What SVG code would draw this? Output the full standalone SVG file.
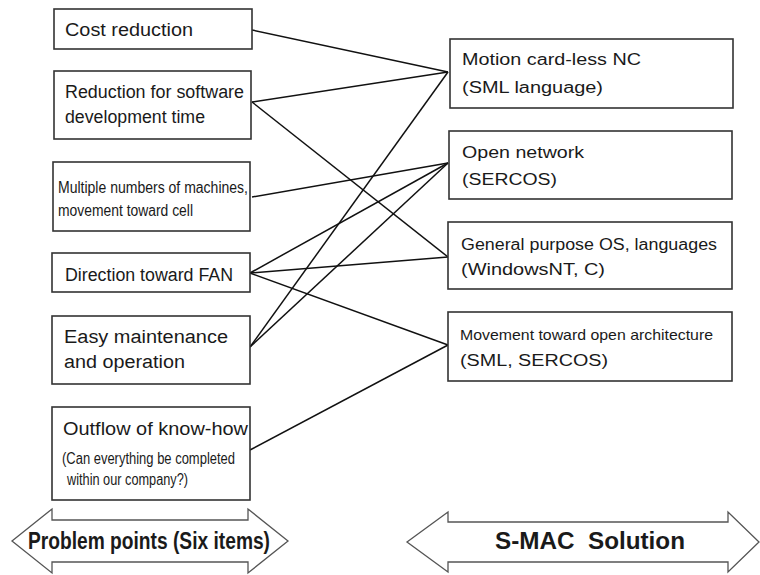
<svg xmlns="http://www.w3.org/2000/svg" width="760" height="575" viewBox="0 0 760 575">
  <style>
    .box { fill: #fff; stroke: #333; stroke-width: 1.6; }
    .t { font-family: "Liberation Sans", Arial, sans-serif; fill: #1a1a1a; }
    .l18 { font-size: 18px; }
    .l16 { font-size: 16px; }
    .l15 { font-size: 15px; }
    .b { font-weight: bold; font-size: 23px; }
    .link { stroke: #111; stroke-width: 1.5; fill: none; }
    .arrow { fill: #fff; stroke: #555; stroke-width: 1.3; }
  </style>

  <!-- connectors between problem points and solutions -->
  <g id="connectors">
    <line class="link" x1="252" y1="30" x2="448" y2="72"/>
    <line class="link" x1="252" y1="102" x2="448" y2="72"/>
    <line class="link" x1="252" y1="102" x2="448" y2="257"/>
    <line class="link" x1="252" y1="197" x2="448" y2="163"/>
    <line class="link" x1="250" y1="273" x2="448" y2="163"/>
    <line class="link" x1="250" y1="273" x2="448" y2="257"/>
    <line class="link" x1="250" y1="273" x2="448" y2="345"/>
    <line class="link" x1="250" y1="347" x2="448" y2="72"/>
    <line class="link" x1="250" y1="347" x2="448" y2="163"/>
    <line class="link" x1="250" y1="450" x2="448" y2="345"/>
  </g>

  <!-- problem points -->
  <g id="p-cost">
    <rect class="box" x="54" y="9" width="198" height="40"/>
    <text class="t l18" x="65" y="36" textLength="128" lengthAdjust="spacingAndGlyphs">Cost reduction</text>
  </g>
  <g id="p-software">
    <rect class="box" x="54" y="71" width="197" height="68"/>
    <text class="t l18" x="65" y="98" textLength="179" lengthAdjust="spacingAndGlyphs">Reduction for software</text>
    <text class="t l18" x="65" y="123" textLength="140" lengthAdjust="spacingAndGlyphs">development time</text>
  </g>
  <g id="p-machines">
    <rect class="box" x="53" y="162" width="197" height="69"/>
    <text class="t l16" x="58" y="193" textLength="190" lengthAdjust="spacingAndGlyphs">Multiple numbers of machines,</text>
    <text class="t l16" x="58" y="216" textLength="135" lengthAdjust="spacingAndGlyphs">movement toward cell</text>
  </g>
  <g id="p-fan">
    <rect class="box" x="52" y="253" width="198" height="39"/>
    <text class="t l18" x="65" y="281" textLength="168" lengthAdjust="spacingAndGlyphs">Direction toward FAN</text>
  </g>
  <g id="p-maintenance">
    <rect class="box" x="52" y="316" width="198" height="68"/>
    <text class="t l18" x="64" y="343" textLength="164" lengthAdjust="spacingAndGlyphs">Easy maintenance</text>
    <text class="t l18" x="64" y="368" textLength="121" lengthAdjust="spacingAndGlyphs">and operation</text>
  </g>
  <g id="p-knowhow">
    <rect class="box" x="52" y="407" width="198" height="93"/>
    <text class="t l18" x="63" y="435" textLength="185" lengthAdjust="spacingAndGlyphs">Outflow of know-how</text>
    <text class="t l16" x="62" y="464" textLength="173" lengthAdjust="spacingAndGlyphs">(Can everything be completed</text>
    <text class="t l16" x="67" y="485" textLength="121" lengthAdjust="spacingAndGlyphs">within our company?)</text>
  </g>

  <!-- solutions -->
  <g id="s-motion">
    <rect class="box" x="450" y="39" width="283" height="69"/>
    <text class="t l16" x="462" y="65" textLength="179" lengthAdjust="spacingAndGlyphs">Motion card-less NC</text>
    <text class="t l16" x="462" y="93" textLength="141" lengthAdjust="spacingAndGlyphs">(SML language)</text>
  </g>
  <g id="s-network">
    <rect class="box" x="449" y="131" width="283" height="68"/>
    <text class="t l16" x="462" y="158" textLength="122" lengthAdjust="spacingAndGlyphs">Open network</text>
    <text class="t l16" x="462" y="185" textLength="95" lengthAdjust="spacingAndGlyphs">(SERCOS)</text>
  </g>
  <g id="s-os">
    <rect class="box" x="448" y="222" width="284" height="67"/>
    <text class="t l16" x="461" y="250" textLength="256" lengthAdjust="spacingAndGlyphs">General purpose OS, languages</text>
    <text class="t l16" x="461" y="275" textLength="144" lengthAdjust="spacingAndGlyphs">(WindowsNT, C)</text>
  </g>
  <g id="s-open-arch">
    <rect class="box" x="448" y="312" width="284" height="69"/>
    <text class="t l15" x="460" y="340" textLength="253" lengthAdjust="spacingAndGlyphs">Movement toward open architecture</text>
    <text class="t l16" x="460" y="366" textLength="148" lengthAdjust="spacingAndGlyphs">(SML, SERCOS)</text>
  </g>

  <!-- column headers as double-headed arrows -->
  <g id="h-problems">
    <polygon class="arrow" points="12,541 52,509 52,520 248,520 248,509 288,541 248,573 248,562 52,562 52,573"/>
    <text class="t b" x="28" y="549" textLength="242" lengthAdjust="spacingAndGlyphs">Problem points (Six items)</text>
  </g>
  <g id="h-solution">
    <polygon class="arrow" points="407,542 448,512 448,522 728,522 728,512 759,542 728,572 728,562 448,562 448,572"/>
    <text class="t b" x="495" y="549" textLength="190" lengthAdjust="spacingAndGlyphs" xml:space="preserve">S-MAC  Solution</text>
  </g>
</svg>
